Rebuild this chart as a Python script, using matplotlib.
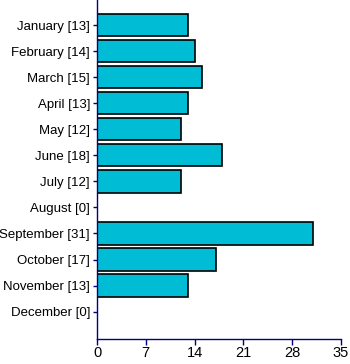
import matplotlib
matplotlib.use("Agg")
import matplotlib.pyplot as plt

months = ["January", "February", "March", "April", "May", "June", "July",
          "August", "September", "October", "November", "December"]
values = [13, 14, 15, 13, 12, 18, 12, 0, 31, 17, 13, 0]
xticks = [0, 7, 14, 21, 28, 35]

plt.rcParams['font.family'] = ['Liberation Sans', 'DejaVu Sans']
fig = plt.figure(figsize=(3.5, 3.64), dpi=100)
ax = fig.add_axes([97/350, 25.5/364, (341-97)/350, 338.5/364])

labels = [f"{m} [{v}]" for m, v in zip(months, values)]
ypos = list(range(len(months)))
ax.barh(ypos, values, height=0.855, color="#00BCD4", edgecolor="black", linewidth=1.2)
ax.set_yticks(ypos)
ax.set_yticklabels(labels, fontsize=9.5)
ax.set_ylim(12.03, -0.96)
ax.set_xlim(0, 35)
ax.set_xticks(xticks)
ax.set_xticklabels([str(t) for t in xticks], fontsize=10.5)
for s in ["top", "right"]:
    ax.spines[s].set_visible(False)
for s in ["left", "bottom"]:
    ax.spines[s].set_color("#000080")
    ax.spines[s].set_linewidth(1)
ax.tick_params(axis="both", colors="#000080", labelcolor="black", length=3, width=1)
ax.tick_params(axis="x", length=4, pad=1.5)
ax.tick_params(axis="y", pad=2)

fig.savefig("out.png", dpi=100)
